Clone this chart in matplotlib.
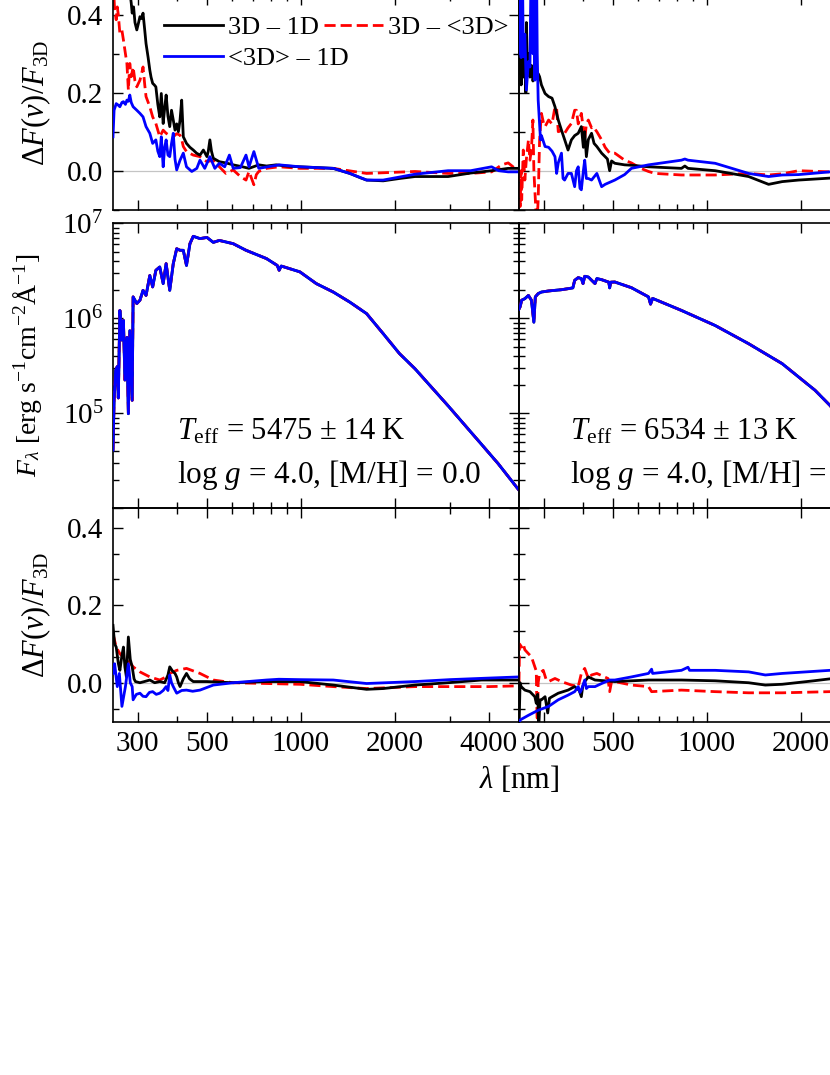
import matplotlib
matplotlib.use("Agg")
import matplotlib.pyplot as plt
from matplotlib.ticker import FixedLocator, FixedFormatter, NullFormatter, LogLocator

plt.rcParams['font.family'] = ['Liberation Serif', 'DejaVu Serif']
plt.rcParams['mathtext.fontset'] = 'custom'
plt.rcParams['mathtext.rm'] = 'Liberation Serif'
plt.rcParams['mathtext.it'] = 'Liberation Serif:italic'
plt.rcParams['mathtext.bf'] = 'Liberation Serif:bold'

# ---------------- data (wavelength in nm) ----------------
series_labels = ['3D – 1D', '3D – <3D>', '<3D> – 1D']
x_major = [300, 500, 1000, 2000, 4000]
x_major_labels = ['300', '500', '1000', '2000', '4000']
x_minor = [400, 600, 700, 800, 900, 3000]
diff_yticks = [0.0, 0.2, 0.4]
diff_ytick_labels = ['0.0', '0.2', '0.4']
flux_yticks = [1e4, 1e5, 1e6, 1e7]
flux_ytick_labels = ['', r'$10^{5}$', r'$10^{6}$', r'$10^{7}$']
annot_left = [r'$T_{\rm eff}$ = 5475 ± 14 K', r'log $g$ = 4.0, [M/H] = 0.0']
annot_right = [r'$T_{\rm eff}$ = 6534 ± 13 K', r'log $g$ = 4.0, [M/H] = −1.0']

# top-left panel (5475 K): relative flux differences
tl_lam_k = [250, 253, 256, 260, 263, 267, 270, 274, 277, 280, 283, 286, 288, 291, 294, 298, 302, 305,
            309, 312, 316, 319, 324, 328, 331, 335, 339, 343, 348, 353, 357, 362, 366, 370, 375, 380,
            385, 390, 395, 400, 405, 410, 415, 420, 430, 441, 452, 463, 475, 487, 500, 505, 511, 517,
            524, 548, 575, 607, 650, 682, 733, 776, 833, 900, 993, 1130, 1270, 1435, 1550, 1624, 1835,
            2070, 2320, 2963, 3500, 4085, 4617, 5000]
tl_k = [0.60, 0.52, 0.58, 0.50, 0.62, 0.55, 0.50, 0.56, 0.47, 0.52, 0.46, 0.43, 0.404, 0.42, 0.38,
        0.361, 0.38, 0.395, 0.39, 0.404, 0.36, 0.326, 0.29, 0.258, 0.24, 0.224, 0.22, 0.215, 0.17,
        0.138, 0.198, 0.121, 0.16, 0.194, 0.14, 0.113, 0.155, 0.13, 0.104, 0.12, 0.10, 0.13, 0.181,
        0.087, 0.07, 0.06, 0.053, 0.045, 0.04, 0.053, 0.036, 0.05, 0.079, 0.05, 0.032, 0.023, 0.02,
        0.015, 0.01, 0.006, 0.015, 0.012, 0.015, 0.012, 0.01, 0.008, 0.006, -0.007, -0.018, -0.024,
        -0.026, -0.02, -0.015, -0.015, -0.006, 0.0, 0.006, 0.006]
tl_lam_r = [250, 253, 256, 258, 260, 263, 267, 270, 274, 277, 280, 283, 286, 290, 294, 298, 302, 305,
            309, 312, 316, 319, 328, 335, 343, 353, 362, 370, 380, 390, 400, 410, 415, 420, 430, 452,
            475, 500, 524, 548, 575, 607, 640, 667, 682, 695, 707, 720, 733, 776, 852, 993, 1270, 1624,
            2320, 2963, 3500, 4085, 4400, 4617, 4853, 5000]
tl_r = [0.50, 0.412, 0.387, 0.42, 0.40, 0.352, 0.36, 0.335, 0.30, 0.275, 0.207, 0.275, 0.241, 0.266,
        0.23, 0.215, 0.225, 0.232, 0.25, 0.266, 0.22, 0.19, 0.164, 0.138, 0.121, 0.087, 0.104, 0.096,
        0.09, 0.087, 0.095, 0.091, 0.08, 0.062, 0.049, 0.04, 0.036, 0.023, 0.027, 0.01, -0.007, 0.002,
        -0.015, -0.024, -0.002, -0.02, -0.036, -0.01, -0.002, 0.006, 0.01, 0.006, 0.006, -0.007,
        -0.002, -0.007, -0.007, -0.003, 0.015, 0.02, 0.006, 0.006]
tl_lam_b = [250, 252, 256, 260, 263, 267, 270, 274, 277, 280, 283, 286, 290, 298, 305, 312, 319, 328,
            335, 343, 348, 353, 357, 362, 366, 370, 375, 380, 385, 390, 395, 400, 410, 420, 430, 447,
            464, 475, 492, 511, 530, 548, 570, 590, 607, 640, 667, 682, 707, 733, 852, 993, 1270, 1435,
            1624, 1835, 2320, 2963, 3500, 4085, 4300, 4617, 5000]
tl_b = [0.087, 0.155, 0.172, 0.168, 0.164, 0.175, 0.177, 0.17, 0.181, 0.178, 0.194, 0.175, 0.164,
        0.155, 0.147, 0.138, 0.113, 0.096, 0.07, 0.079, 0.05, 0.036, 0.087, 0.01, 0.06, 0.079, 0.04,
        0.036, 0.07, 0.096, 0.03, 0.002, 0.027, 0.045, 0.01, -0.002, 0.006, 0.027, 0.006, 0.036, 0.006,
        0.019, 0.01, 0.04, 0.006, 0.008, 0.04, 0.01, 0.049, 0.006, 0.015, 0.01, 0.006, -0.007, -0.024,
        -0.024, -0.009, 0.0, 0.0, 0.01, 0.0, -0.003, -0.003]

# top-right panel (6534 K)
tr_lam_k = [250, 252, 254, 256, 258, 261, 263, 264, 266, 268, 271, 274, 277, 281, 284, 288, 291, 295,
            303, 311, 319, 326, 334, 342, 350, 359, 368, 377, 387, 396, 402, 406, 411, 417, 427, 435,
            444, 460, 472, 480, 488, 495, 507, 545, 573, 650, 829, 850, 870, 1063, 1361, 1577, 1743,
            1967, 2480, 2600]
tr_k = [0.25, 0.32, 0.22, 0.35, 0.24, 0.30, 0.20, 0.38, 0.27, 0.30, 0.24, 0.27, 0.23, 0.25, 0.24,
        0.249, 0.241, 0.22, 0.198, 0.19, 0.186, 0.164, 0.13, 0.104, 0.08, 0.053, 0.079, 0.09, 0.096,
        0.113, 0.06, 0.10, 0.036, 0.08, 0.096, 0.07, 0.062, 0.045, 0.036, 0.03, 0.0, 0.025, 0.019,
        0.015, 0.014, 0.01, 0.006, 0.012, 0.006, 0.0, -0.015, -0.035, -0.028, -0.024, -0.019, -0.019]
tr_lam_r = [250, 252, 254, 255, 258, 261, 264, 268, 271, 274, 277, 279, 281, 284, 286, 288, 291, 295,
            300, 303, 311, 319, 326, 330, 334, 338, 342, 350, 359, 368, 377, 382, 387, 396, 406, 411,
            417, 427, 432, 444, 460, 472, 488, 507, 545, 573, 614, 650, 682, 829, 1063, 1361, 1577,
            1743, 1967, 2480, 2600]
tr_r = [0.0, -0.092, 0.0, -0.075, 0.053, -0.024, 0.03, 0.079, 0.027, 0.055, 0.13, 0.0, -0.05, -0.12,
        -0.12, -0.075, 0.079, 0.147, 0.12, 0.113, 0.13, 0.12, 0.164, 0.16, 0.10, 0.104, 0.096, 0.096,
        0.11, 0.121, 0.155, 0.155, 0.12, 0.147, 0.079, 0.12, 0.13, 0.11, 0.113, 0.10, 0.079, 0.06,
        0.045, 0.045, 0.027, 0.02, 0.006, -0.002, -0.007, -0.011, -0.011, -0.007, -0.011, -0.008,
        0.0, -0.003, -0.003]
tr_lam_b = [250, 252, 254, 256, 258, 261, 264, 268, 271, 274, 277, 279, 281, 284, 286, 288, 291, 293,
            295, 303, 311, 319, 326, 330, 334, 342, 346, 350, 359, 368, 377, 382, 387, 392, 396, 402,
            406, 411, 417, 427, 444, 460, 472, 507, 545, 573, 650, 829, 850, 870, 1063, 1361, 1577,
            1743, 1967, 2480, 2600]
tr_b = [0.30, 0.60, 0.29, 0.60, 0.292, 0.35, 0.207, 0.28, 0.266, 0.60, 0.30, 0.60, 0.232, 0.60, 0.30,
        0.181, 0.12, 0.079, 0.09, 0.062, 0.06, 0.05, 0.036, -0.007, 0.02, 0.045, -0.02, -0.024,
        -0.007, -0.007, -0.041, 0.0, 0.01, -0.045, -0.049, 0.0, 0.027, -0.02, -0.02, -0.024, -0.007,
        -0.041, -0.035, -0.024, -0.01, 0.006, 0.015, 0.027, 0.03, 0.027, 0.019, -0.007, -0.015,
        -0.011, -0.01, -0.003, -0.003]

# middle-left panel: F_lambda (5475 K)
ml_lam = [250, 252, 255, 258, 260, 263, 267, 270, 273, 277, 280, 283, 288, 290, 298, 305, 312, 319,
          328, 335, 343, 353, 362, 370, 380, 390, 400, 410, 420, 430, 441, 452, 475, 500, 524, 548,
          607, 667, 776, 840, 852, 865, 993, 1120, 1270, 1435, 1624, 1835, 2070, 2320, 2963, 3794,
          4288, 5000]
ml_flux = [4.1e4, 1.37e5, 2.84e5, 3.1e5, 1.45e5, 1.21e6, 5.9e5, 9.5e5, 2.24e5, 6.3e5, 9.9e4, 7.4e5,
           1.37e5, 1.68e6, 1.43e6, 1.55e6, 1.97e6, 1.74e6, 2.82e6, 2.14e6, 3.2e6, 3.47e6, 2.32e6,
           3.76e6, 1.97e6, 3.76e6, 5.4e6, 5.2e6, 5.2e6, 3.6e6, 6.1e6, 7.3e6, 6.9e6, 7.1e6, 6.3e6,
           6.6e6, 6.1e6, 5.2e6, 4.25e6, 3.6e6, 3.2e6, 3.55e6, 3.08e6, 2.32e6, 1.89e6, 1.48e6, 1.12e6,
           6.9e5, 4.25e5, 2.95e5, 1.2e5, 4.7e4, 2.95e4, 1.55e4]

# middle-right panel: F_lambda (6534 K)
mr_lam = [250, 252, 255, 261, 268, 274, 279, 282, 288, 295, 311, 326, 342, 359, 372, 377, 387, 396,
          401, 406, 417, 438, 444, 460, 485, 488, 492, 507, 573, 650, 660, 670, 829, 1063, 1361, 1743,
          2220, 2480, 2600]
mr_flux = [1.25e6, 1.32e6, 1.55e6, 1.61e6, 1.74e6, 1.55e6, 9.1e5, 1.68e6, 1.82e6, 1.89e6, 1.94e6,
           1.97e6, 2.0e6, 2.05e6, 2.09e6, 2.51e6, 2.68e6, 2.62e6, 2.32e6, 2.77e6, 2.72e6, 2.32e6,
           2.62e6, 2.55e6, 2.4e6, 2.09e6, 2.4e6, 2.41e6, 2.1e6, 1.68e6, 1.41e6, 1.62e6, 1.21e6, 8.4e5,
           5.4e5, 3.33e5, 1.75e5, 1.21e5, 1.0e5]

# bottom-left panel (5475 K)
bl_lam_k = [250, 253, 256, 260, 263, 267, 270, 273, 276, 280, 284, 288, 292, 295, 305, 315, 328, 340,
            353, 366, 375, 380, 388, 395, 400, 405, 410, 420, 430, 440, 452, 500, 607, 776, 993, 1270,
            1624, 1835, 2320, 2963, 3794, 5000]
bl_k = [0.148, 0.10, 0.092, 0.05, 0.032, 0.07, 0.092, 0.04, 0.015, 0.118, 0.06, 0.041, 0.01, 0.003,
        0.0, 0.003, 0.007, 0.0, 0.003, 0.0, 0.02, 0.041, 0.03, 0.024, 0.015, 0.0, -0.01, 0.01, 0.024,
        0.01, 0.003, 0.003, 0.0, 0.003, 0.003, -0.006, -0.017, -0.015, -0.006, 0.0, 0.007, 0.007]
bl_lam_r = [250, 256, 263, 270, 277, 280, 290, 305, 328, 353, 370, 380, 400, 430, 475, 524, 607, 776,
            993, 1270, 1624, 2320, 3000, 4000, 5000]
bl_r = [0.126, 0.092, 0.075, 0.065, 0.062, 0.058, 0.041, 0.028, 0.015, 0.007, 0.015, 0.024, 0.032,
        0.037, 0.024, 0.007, 0.0, -0.002, -0.004, -0.01, -0.015, -0.01, -0.01, -0.01, -0.008]
bl_lam_b = [250, 253, 258, 262, 267, 274, 280, 284, 288, 290, 297, 305, 312, 319, 327, 335, 344, 353,
            362, 370, 375, 380, 385, 390, 400, 415, 430, 450, 475, 524, 607, 776, 850, 993, 1270, 1624,
            2320, 3000, 4000, 5000]
bl_b = [0.024, 0.049, -0.01, 0.024, -0.061, -0.01, 0.049, 0.0, -0.01, -0.044, -0.03, -0.027, -0.035,
        -0.036, -0.025, -0.023, -0.03, -0.027, -0.02, -0.01, -0.02, 0.02, 0.0, -0.01, -0.027, -0.02,
        -0.019, -0.022, -0.019, -0.006, 0.0, 0.007, 0.009, 0.008, 0.007, -0.002, 0.003, 0.008, 0.012,
        0.015]

# bottom-right panel (6534 K)
br_lam_k = [250, 252, 254, 261, 271, 281, 284, 287, 289, 292, 295, 303, 309, 313, 319, 334, 359, 377,
            390, 396, 400, 406, 417, 438, 507, 650, 829, 1063, 1361, 1539, 1743, 2200, 2480, 2600]
br_k = [-0.12, 0.0, -0.01, -0.019, -0.023, -0.036, -0.053, -0.03, -0.12, -0.044, -0.044, -0.036,
        -0.078, -0.04, -0.036, -0.027, -0.019, -0.01, -0.02, -0.036, -0.01, 0.003, 0.015, 0.007, 0.003,
        0.007, 0.007, 0.005, 0.0, -0.006, -0.004, 0.005, 0.01, 0.01]
br_lam_r = [250, 251, 255, 258, 261, 268, 274, 281, 284, 286, 288, 291, 299, 305, 311, 326, 342, 368,
            387, 396, 406, 417, 427, 444, 482, 488, 495, 507, 573, 650, 665, 829, 1063, 1361, 1743,
            2480, 2600]
br_r = [0.0, 0.1, 0.092, 0.1, 0.085, 0.075, 0.067, 0.041, 0.03, -0.12, 0.0, 0.024, 0.032, 0.01, 0.003,
        0.011, 0.003, -0.006, -0.01, 0.024, 0.037, 0.011, 0.02, 0.024, 0.011, -0.023, 0.003, 0.003,
        -0.006, -0.01, -0.023, -0.019, -0.023, -0.026, -0.026, -0.023, -0.023]
br_lam_b = [250, 252, 268, 288, 311, 334, 359, 377, 387, 392, 396, 406, 411, 417, 438, 460, 488, 507,
            573, 650, 665, 670, 829, 870, 880, 1063, 1361, 1539, 1743, 2480, 2600]
br_b = [-0.11, -0.096, -0.084, -0.071, -0.061, -0.044, -0.032, -0.023, -0.01, -0.025, -0.019, 0.007,
        -0.015, -0.01, -0.01, -0.002, 0.007, 0.007, 0.015, 0.024, 0.035, 0.024, 0.032, 0.04, 0.032,
        0.032, 0.028, 0.02, 0.024, 0.032, 0.033]

# ---------------- figure ----------------
W, H = 830, 1075
fig = plt.figure(figsize=(W / 100, H / 100), dpi=100)


def box(x0, y0, x1, y1):
    return [x0 / W, 1 - y1 / H, (x1 - x0) / W, (y1 - y0) / H]


ax_tl = fig.add_axes(box(113, -4.8, 519, 209.7))
ax_tr = fig.add_axes(box(519, -4.8, 925, 209.7))
ax_ml = fig.add_axes(box(113, 223.3, 519, 508.3))
ax_mr = fig.add_axes(box(519, 223.3, 925, 508.3))
ax_bl = fig.add_axes(box(113, 508.3, 519, 721.5))
ax_br = fig.add_axes(box(519, 508.3, 925, 721.5))

LW = 2.0
DASH = (0, (4.0, 1.8))
TICK_FS = 21


def style_x(ax, labels):
    ax.set_xscale('log')
    ax.set_xlim(250, 5000)
    ax.xaxis.set_major_locator(FixedLocator(x_major))
    ax.xaxis.set_minor_locator(FixedLocator(x_minor))
    if labels:
        ax.xaxis.set_major_formatter(FixedFormatter(x_major_labels))
    else:
        ax.xaxis.set_major_formatter(NullFormatter())
    ax.xaxis.set_minor_formatter(NullFormatter())


def common(ax, left_labels, bottom_labels):
    ax.set_facecolor('none')
    ax.tick_params(which='both', direction='in', top=True, right=True,
                   labelleft=left_labels, labelbottom=bottom_labels,
                   labelsize=TICK_FS, width=1.0, pad=7)
    ax.tick_params(which='major', length=7)
    ax.tick_params(which='minor', length=4)
    for s in ax.spines.values():
        s.set_linewidth(1.2)


def diff_panel(ax, lk, k, lr, r, lb, b, yminor, left_labels, bottom_labels):
    ax.axhline(0, color='#c4c4c4', lw=0.9, zorder=1)
    hk, = ax.plot(lk, k, color='black', lw=LW, zorder=3, label=series_labels[0])
    hr, = ax.plot(lr, r, color='red', lw=LW, ls=DASH, zorder=2, label=series_labels[1])
    hb, = ax.plot(lb, b, color='blue', lw=LW, zorder=4, label=series_labels[2])
    style_x(ax, bottom_labels)
    ax.set_ylim(-0.1, 0.45)
    ax.yaxis.set_major_locator(FixedLocator(diff_yticks))
    ax.yaxis.set_major_formatter(FixedFormatter(diff_ytick_labels))
    ax.yaxis.set_minor_locator(FixedLocator(yminor))
    common(ax, left_labels, bottom_labels)
    return hk, hr, hb


def flux_panel(ax, lam, flux, left_labels, texts, tx):
    ax.plot(lam, flux, color='black', lw=LW, zorder=2)
    ax.plot(lam, flux, color='red', lw=LW, ls=DASH, zorder=3)
    ax.plot(lam, flux, color='blue', lw=LW, zorder=4)
    style_x(ax, False)
    ax.set_yscale('log')
    ax.set_ylim(1e4, 1e7)
    ax.yaxis.set_major_locator(FixedLocator(flux_yticks))
    ax.yaxis.set_major_formatter(FixedFormatter(flux_ytick_labels))
    ax.yaxis.set_minor_locator(LogLocator(base=10, subs=[2, 3, 4, 5, 6, 7, 8, 9], numticks=20))
    ax.yaxis.set_minor_formatter(NullFormatter())
    common(ax, left_labels, False)
    ax.text(tx, 0.24, texts[0], transform=ax.transAxes, fontsize=22, va='baseline', ha='left')
    ax.text(tx, 0.089, texts[1], transform=ax.transAxes, fontsize=22.5, va='baseline', ha='left')


minor_top = [-0.1, 0.1, 0.3]
minor_bot = [-0.0667, 0.0667, 0.1333, 0.2667, 0.3333]

hk, hr, hb = diff_panel(ax_tl, tl_lam_k, tl_k, tl_lam_r, tl_r, tl_lam_b, tl_b, minor_top, True, False)
diff_panel(ax_tr, tr_lam_k, tr_k, tr_lam_r, tr_r, tr_lam_b, tr_b, minor_top, False, False)
diff_panel(ax_bl, bl_lam_k, bl_k, bl_lam_r, bl_r, bl_lam_b, bl_b, minor_bot, True, True)
diff_panel(ax_br, br_lam_k, br_k, br_lam_r, br_r, br_lam_b, br_b, minor_bot, False, True)
flux_panel(ax_ml, ml_lam, ml_flux, True, annot_left, 0.158)
flux_panel(ax_mr, mr_lam, mr_flux, False, annot_right, 0.1256)

dlabel = r'$\Delta F(\nu)/F_{\rm 3D}$'
ax_tl.set_ylabel(dlabel, fontsize=22)
ax_bl.set_ylabel(dlabel, fontsize=22)
ax_ml.set_ylabel(r'$F_\lambda$ [erg s$^{-1}$cm$^{-2}$Å$^{-1}$]', fontsize=20)
ax_tl.yaxis.set_label_coords(-0.148, 0.5)
ax_bl.yaxis.set_label_coords(-0.148, 0.5)
ax_ml.yaxis.set_label_coords(-0.170, 0.5)

ax_tl.legend([hk, hb, hr], [series_labels[0], series_labels[2], series_labels[1]],
             ncol=2, loc='upper left', bbox_to_anchor=(0.1256, 0.905), frameon=False,
             fontsize=19, borderpad=0, borderaxespad=0, handlelength=2.23,
             handletextpad=0.2, columnspacing=-0.95, labelspacing=0.28)

fig.text(519 / W, 1 - 780 / H, r'$\lambda$ [nm]', ha='center', va='center', fontsize=22)

fig.savefig('out.png', dpi=100)
